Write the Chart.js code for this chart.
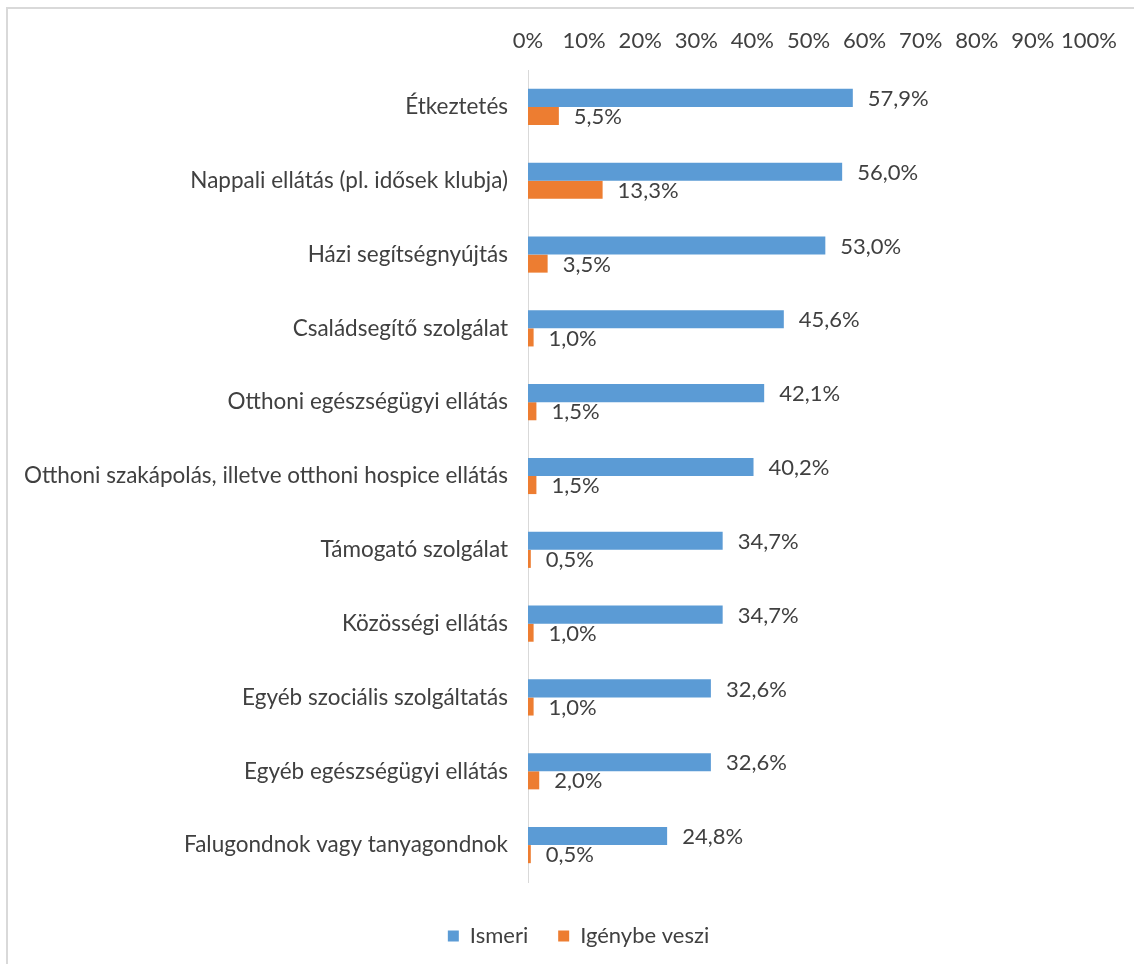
<!DOCTYPE html>
<html>
<head>
<meta charset="utf-8">
<script src="https://cdn.jsdelivr.net/npm/chart.js@4.4.1/dist/chart.umd.min.js"></script>
<style>
  html, body { margin: 0; padding: 0; background: #fff; overflow: hidden; }
  #frame {
    position: absolute; left: 6px; top: 7px; width: 1140px; height: 970px;
    border: 2px solid #d9d9d9; box-sizing: border-box;
  }
  #wrap { position: absolute; left: 8px; top: 9px; width: 1126px; height: 955px; }
</style>
</head>
<body>
<div id="frame"></div>
<div id="wrap"><canvas id="serviceChart"></canvas></div>
<script>
const categories = [
  'Étkeztetés',
  'Nappali ellátás (pl. idősek klubja)',
  'Házi segítségnyújtás',
  'Családsegítő szolgálat',
  'Otthoni egészségügyi ellátás',
  'Otthoni szakápolás, illetve otthoni hospice ellátás',
  'Támogató szolgálat',
  'Közösségi ellátás',
  'Egyéb szociális szolgáltatás',
  'Egyéb egészségügyi ellátás',
  'Falugondnok vagy tanyagondnok'
];
const ismeri = [57.9, 56.0, 53.0, 45.6, 42.1, 40.2, 34.7, 34.7, 32.6, 32.6, 24.8];
const igenybeVeszi = [5.5, 13.3, 3.5, 1.0, 1.5, 1.5, 0.5, 1.0, 1.0, 2.0, 0.5];
const xTicks = [0, 10, 20, 30, 40, 50, 60, 70, 80, 90, 100];

const textColor = '#404040';
const fontFamily = 'Lato, "Open Sans", sans-serif';
const fontSize = 22;

// value labels to the right of each bar, "57,9%" style
const barValueLabels = {
  id: 'barValueLabels',
  afterDatasetsDraw(chart) {
    const ctx = chart.ctx;
    ctx.save();
    ctx.font = fontSize + 'px ' + fontFamily;
    ctx.fillStyle = textColor;
    ctx.textAlign = 'left';
    ctx.textBaseline = 'middle';
    chart.data.datasets.forEach((ds, i) => {
      chart.getDatasetMeta(i).data.forEach((bar, j) => {
        const txt = ds.data[j].toFixed(1).replace('.', ',') + '%';
        ctx.fillText(txt, bar.x + 15, bar.y + 1);
      });
    });
    ctx.restore();
  }
};

// nudge the legend right of the canvas centre and a little lower
const legendShift = {
  id: 'legendShift',
  afterLayout(chart) {
    const lg = chart.legend;
    if (!lg) return;
    lg.left += 30;
    lg.right += 30;
    lg.top += 13;
    lg.bottom += 13;
  }
};

const chart = new Chart(document.getElementById('serviceChart'), {
  type: 'bar',
  data: {
    labels: categories,
    datasets: [
      {
        label: 'Ismeri',
        data: ismeri,
        backgroundColor: '#5b9bd5',
        categoryPercentage: 0.49,
        barPercentage: 1.0
      },
      {
        label: 'Igénybe veszi',
        data: igenybeVeszi,
        backgroundColor: '#ed7d31',
        categoryPercentage: 0.49,
        barPercentage: 1.0
      }
    ]
  },
  options: {
    indexAxis: 'y',
    responsive: true,
    maintainAspectRatio: false,
    animation: false,
    layout: { padding: { left: 0, right: 45, top: 0, bottom: 20 } },
    scales: {
      x: {
        position: 'top',
        min: 0,
        max: 100,
        afterBuildTicks(scale) {
          scale.ticks = xTicks.map(v => ({ value: v }));
        },
        afterFit(scale) { scale.height = 61; },
        grid: { display: false, drawTicks: false },
        border: { display: false },
        ticks: {
          padding: 16,
          color: textColor,
          font: { family: fontFamily, size: fontSize },
          maxRotation: 0,
          autoSkip: false,
          callback: v => v + '%'
        }
      },
      y: {
        afterFit(scale) { scale.width = 520; },
        grid: { display: false, drawTicks: false },
        border: { display: true, color: '#d9d9d9', width: 1 },
        ticks: {
          padding: 20,
          color: textColor,
          font: { family: fontFamily, size: 22.5 }
        }
      }
    },
    plugins: {
      legend: {
        position: 'bottom',
        labels: {
          color: textColor,
          font: { family: fontFamily, size: fontSize },
          boxWidth: 11,
          boxHeight: 11,
          padding: 30
        }
      },
      tooltip: { enabled: false }
    }
  },
  plugins: [barValueLabels, legendShift]
});
</script>
</body>
</html>
